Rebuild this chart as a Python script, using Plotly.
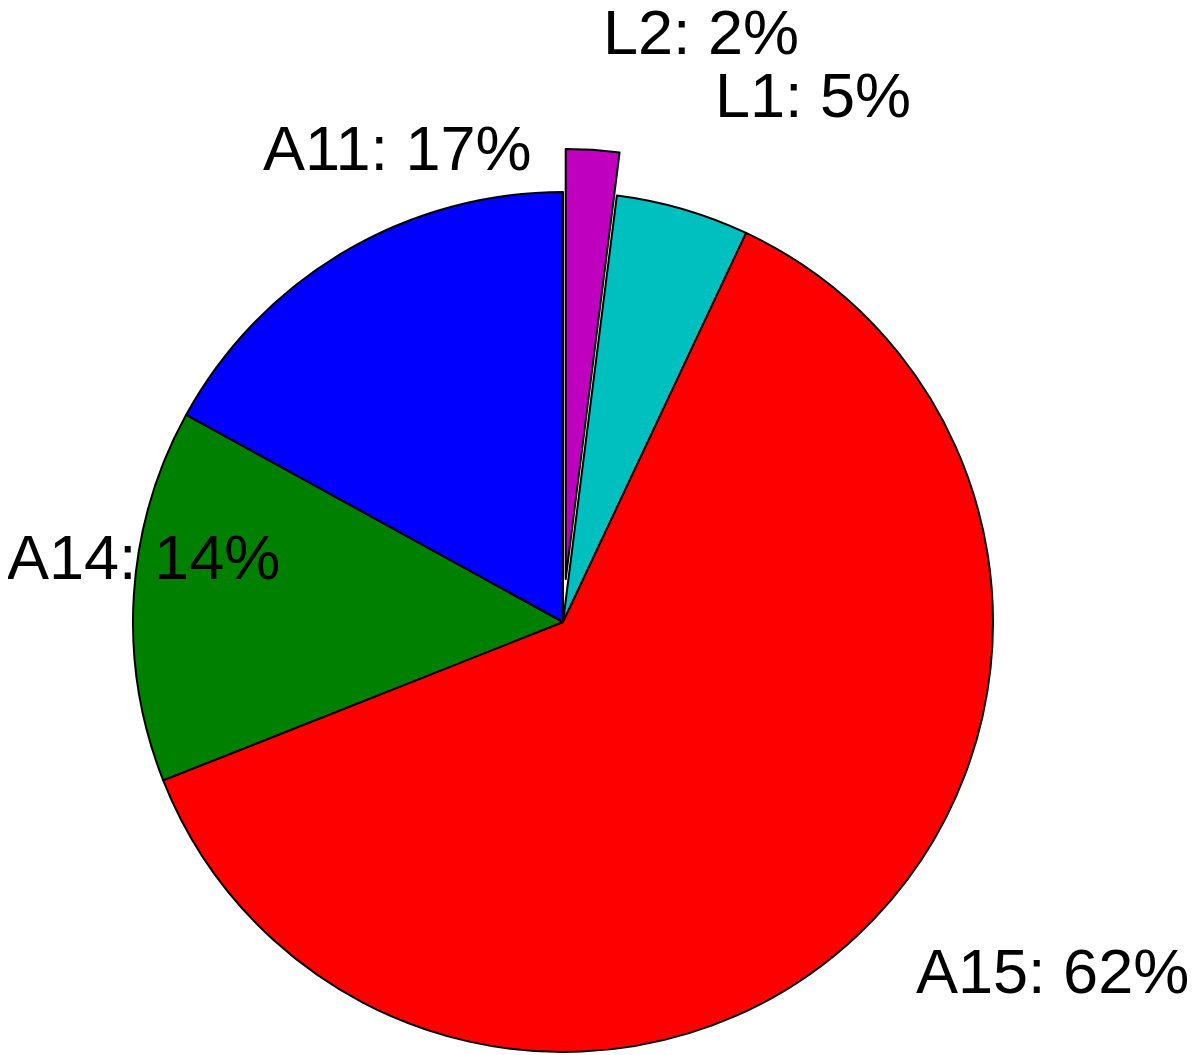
import plotly.graph_objects as go
import math

# ---- data ----
names = ["L2", "L1", "A15", "A14", "A11"]
values = [2, 5, 62, 14, 17]
colors = ["#BF00BF", "#00BFBF", "#FF0000", "#008000", "#0000FF"]
exploded = [True, False, False, False, False]

# ---- layout constants ----
OFF = 8                          # default page body margin
W, H = 1200 - OFF, 1055 - OFF
CX, CY, R = 563 - OFF, 622 - OFF, 430   # pie centre / radius in px (figure coords)
PULL = 0.1                      # explode offset as a fraction of radius
LW = 2
FONT = dict(family="Liberation Sans, Arial, sans-serif", size=63, color="black")

def dom(cx, cy):
    return dict(x=[(cx - R) / W, (cx + R) / W],
                y=[1 - (cy + R) / H, 1 - (cy - R) / H])

fig = go.Figure()

# main pie: exploded slices left empty
fig.add_trace(go.Pie(
    labels=names, values=values, sort=False, direction="clockwise", rotation=0,
    marker=dict(colors=[("rgba(0,0,0,0)" if e else c) for c, e in zip(colors, exploded)],
                line=dict(color="black", width=[0 if e else LW for e in exploded])),
    textinfo="none", hoverinfo="skip", showlegend=False,
    domain=dom(CX, CY),
))

# exploded slices drawn by a second, shifted trace
total = sum(values)
cum = 0
for i, (v, e) in enumerate(zip(values, exploded)):
    if e:
        mid = (cum + v / 2) / total * 2 * math.pi
        dx = PULL * R * math.sin(mid)
        dy = -PULL * R * math.cos(mid)
        fig.add_trace(go.Pie(
            labels=names, values=values, sort=False, direction="clockwise", rotation=0,
            marker=dict(colors=[(c if j == i else "rgba(0,0,0,0)") for j, c in enumerate(colors)],
                        line=dict(color="black", width=[LW if j == i else 0 for j in range(len(values))])),
            textinfo="none", hoverinfo="skip", showlegend=False,
            domain=dom(CX + dx, CY + dy),
        ))
    cum += v

# labels (text placement in page px: left edge, vertical middle of caps)
label_pos = {"L2": (601, 32), "L1": (713, 95), "A15": (914, 971), "A14": (5, 557), "A11": (261, 148)}
for n, v in zip(names, values):
    x, y = label_pos[n]
    fig.add_annotation(text=f"{n}: {v}%", x=(x - OFF) / W, y=1 - (y - OFF) / H,
                       xref="paper", yref="paper",
                       xanchor="left", yanchor="middle", showarrow=False, font=FONT)

fig.update_layout(width=W, height=H, margin=dict(l=0, r=0, t=0, b=0),
                  paper_bgcolor="white", plot_bgcolor="white")
fig.write_html("out.html")
